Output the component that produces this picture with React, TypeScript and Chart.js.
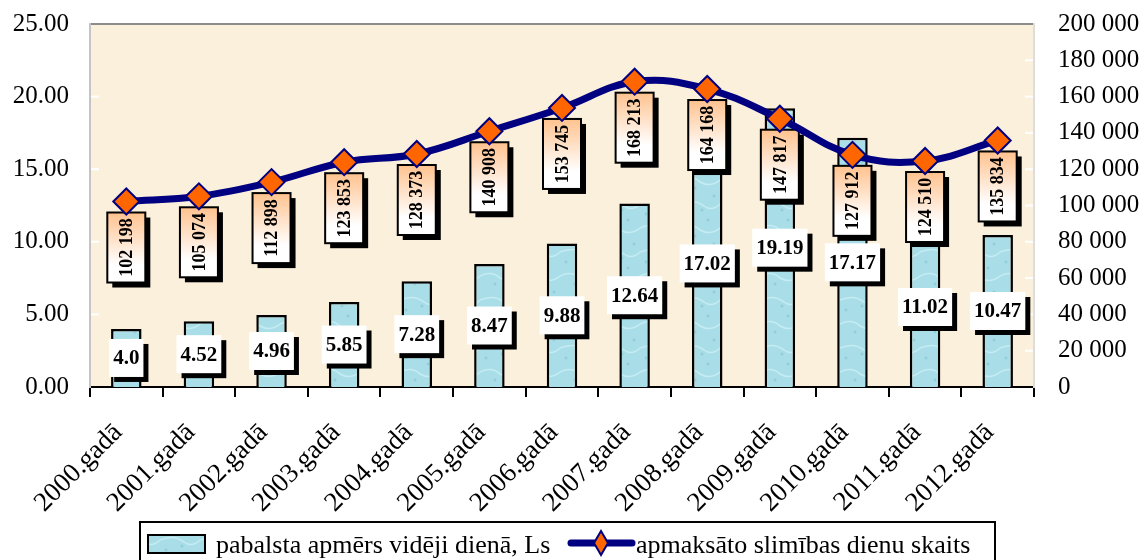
import { useEffect, useRef } from "react";
import { Chart, registerables } from "chart.js";

Chart.register(...registerables);

const categories = [
  "2000.gadā", "2001.gadā", "2002.gadā", "2003.gadā", "2004.gadā", "2005.gadā", "2006.gadā",
  "2007.gadā", "2008.gadā", "2009.gadā", "2010.gadā", "2011.gadā", "2012.gadā",
];
const benefitPerDay = [4.0, 4.52, 4.96, 5.85, 7.28, 8.47, 9.88, 12.64, 17.02, 19.19, 17.17, 11.02, 10.47];
const benefitLabels = ["4.0", "4.52", "4.96", "5.85", "7.28", "8.47", "9.88", "12.64", "17.02", "19.19", "17.17", "11.02", "10.47"];
const paidSickDays = [102198, 105074, 112898, 123853, 128373, 140908, 153745, 168213, 164168, 147817, 127912, 124510, 135834];
const seriesNames = ["pabalsta apmērs vidēji dienā, Ls", "apmaksāto slimības dienu skaits"];
const leftAxis = { min: 0, max: 25, step: 5 };
const rightAxis = { min: 0, max: 200000, step: 20000 };

const SERIF = "'Liberation Serif', 'DejaVu Serif', serif";

function fmtThousands(v: number): string {
  return String(Math.round(v)).replace(/\B(?=(\d{3})+(?!\d))/g, " ");
}

function makeBarPattern(): CanvasPattern | string {
  const c = document.createElement("canvas");
  c.width = 40;
  c.height = 48;
  const g = c.getContext("2d");
  if (!g) return "#A6DCE7";
  g.fillStyle = "#A9DEE8";
  g.fillRect(0, 0, 40, 48);
  g.strokeStyle = "rgba(210, 242, 247, 0.7)";
  g.lineWidth = 1.5;
  g.beginPath();
  g.moveTo(0, 12); g.quadraticCurveTo(14, 6, 24, 14); g.quadraticCurveTo(32, 20, 40, 12);
  g.moveTo(0, 36); g.quadraticCurveTo(12, 30, 20, 38); g.quadraticCurveTo(30, 44, 40, 36);
  g.stroke();
  g.fillStyle = "rgba(130, 195, 210, 0.6)";
  const dots = [[6, 22], [28, 28], [15, 44], [34, 4], [22, 18]];
  for (const [x, y] of dots) {
    g.beginPath();
    g.arc(x, y, 1.4, 0, Math.PI * 2);
    g.fill();
  }
  const p = g.createPattern(c, "repeat");
  return p || "#A6DCE7";
}

const backgroundPlugin = {
  id: "plotBackground",
  beforeDraw(chart: any) {
    const { ctx, chartArea: a } = chart;
    ctx.save();
    ctx.fillStyle = "#FBF0DC";
    ctx.fillRect(a.left, a.top, a.right - a.left, a.bottom - a.top);
    ctx.strokeStyle = "#8C8C8C";
    ctx.lineWidth = 2;
    ctx.beginPath();
    ctx.moveTo(a.left, a.top);
    ctx.lineTo(a.right, a.top);
    ctx.stroke();
    ctx.strokeStyle = "#FFFFFF";
    ctx.lineWidth = 2;
    const yl = chart.scales.y;
    for (let v = leftAxis.min + leftAxis.step; v < leftAxis.max; v += leftAxis.step) {
      const py = yl.getPixelForValue(v);
      ctx.beginPath();
      ctx.moveTo(a.left, py);
      ctx.lineTo(a.left + 9, py);
      ctx.stroke();
    }
    const yr = chart.scales.y1;
    for (let v = rightAxis.min + rightAxis.step; v < rightAxis.max; v += rightAxis.step) {
      const py = yr.getPixelForValue(v);
      ctx.beginPath();
      ctx.moveTo(a.right - 9, py);
      ctx.lineTo(a.right, py);
      ctx.stroke();
    }
    ctx.restore();
  },
};

const labelsPlugin = {
  id: "valueLabels",
  beforeDatasetDraw(chart: any, args: any) {
    if (args.index !== 1) return;
    const { ctx } = chart;
    const meta = chart.getDatasetMeta(1);
    ctx.save();
    meta.data.forEach((pt: any, i: number) => {
      const w = 38;
      const h = 70;
      const x = pt.x - w / 2;
      const y = pt.y + 11;
      ctx.fillStyle = "#000";
      ctx.fillRect(x + 5, y + 5, w, h);
      const grad = ctx.createLinearGradient(0, y, 0, y + h);
      grad.addColorStop(0, "#FFC28E");
      grad.addColorStop(0.75, "#FFFFFF");
      grad.addColorStop(1, "#FFFFFF");
      ctx.fillStyle = grad;
      ctx.fillRect(x, y, w, h);
      ctx.strokeStyle = "#000";
      ctx.lineWidth = 2;
      ctx.strokeRect(x, y, w, h);
      ctx.save();
      ctx.translate(pt.x, y + h / 2);
      ctx.rotate(-Math.PI / 2);
      ctx.fillStyle = "#000";
      ctx.font = `bold 18px ${SERIF}`;
      ctx.textAlign = "center";
      ctx.textBaseline = "middle";
      ctx.fillText(fmtThousands(paidSickDays[i]), 0, 1);
      ctx.restore();
    });
    ctx.restore();
  },
  afterDatasetDraw(chart: any, args: any) {
    if (args.index !== 0) return;
    const { ctx } = chart;
    const meta = chart.getDatasetMeta(0);
    ctx.save();
    ctx.font = `bold 21px ${SERIF}`;
    meta.data.forEach((bar: any, i: number) => {
      const text = benefitLabels[i];
      const tw = ctx.measureText(text).width;
      const w = tw + 8;
      const h = 38;
      const cx = bar.x;
      const cy = (bar.y + bar.base) / 2;
      const x = cx - w / 2;
      const y = cy - h / 2;
      ctx.fillStyle = "#000";
      ctx.fillRect(x + 5, y + 5, w, h);
      ctx.fillStyle = "#FFFFFF";
      ctx.fillRect(x, y, w, h);
      ctx.fillStyle = "#000";
      ctx.textAlign = "center";
      ctx.textBaseline = "middle";
      ctx.fillText(text, cx, cy + 1);
    });
    ctx.restore();
  },
};

const legendPlugin = {
  id: "boxLegend",
  afterDraw(chart: any) {
    const { ctx } = chart;
    const barFill = chart.data.datasets[0].backgroundColor;
    ctx.save();
    ctx.strokeStyle = "#000";
    ctx.lineWidth = 2;
    ctx.strokeRect(140, 522, 855, 50);
    ctx.fillStyle = barFill;
    ctx.fillRect(148, 535, 57, 18);
    ctx.lineWidth = 2;
    ctx.strokeRect(148, 535, 57, 18);
    ctx.fillStyle = "#000";
    ctx.font = `26px ${SERIF}`;
    ctx.textAlign = "left";
    ctx.textBaseline = "alphabetic";
    ctx.fillText(seriesNames[0], 216, 553);
    ctx.strokeStyle = "#000080";
    ctx.lineWidth = 7;
    ctx.lineCap = "round";
    ctx.beginPath();
    ctx.moveTo(571, 543);
    ctx.lineTo(632, 543);
    ctx.stroke();
    ctx.fillStyle = "#FF6600";
    ctx.strokeStyle = "#000080";
    ctx.lineWidth = 2;
    ctx.beginPath();
    ctx.moveTo(601, 531);
    ctx.lineTo(608, 543);
    ctx.lineTo(601, 555);
    ctx.lineTo(594, 543);
    ctx.closePath();
    ctx.fill();
    ctx.stroke();
    ctx.fillStyle = "#000";
    ctx.fillText(seriesNames[1], 636, 553);
    ctx.restore();
  },
};

export default function App() {
  const ref = useRef<HTMLCanvasElement | null>(null);

  useEffect(() => {
    document.body.style.margin = "0";
    const canvas = ref.current;
    if (!canvas) return;
    const pattern = makeBarPattern();
    const chart = new Chart(canvas, {
      type: "bar",
      data: {
        labels: categories,
        datasets: [
          {
            type: "bar",
            label: seriesNames[0],
            data: benefitPerDay,
            yAxisID: "y",
            backgroundColor: pattern as any,
            borderColor: "#000",
            borderWidth: 2.5,
            barPercentage: 0.42,
            categoryPercentage: 1,
            order: 2,
          },
          {
            type: "line",
            label: seriesNames[1],
            data: paidSickDays,
            yAxisID: "y1",
            borderColor: "#000080",
            borderWidth: 7,
            tension: 0.4,
            pointStyle: "rectRot",
            pointRadius: 13,
            pointHoverRadius: 13,
            pointBackgroundColor: "#FF6600",
            pointBorderColor: "#000080",
            pointBorderWidth: 2,
            order: 1,
          } as any,
        ],
      },
      options: {
        responsive: false,
        animation: false,
        layout: { padding: { top: 24, bottom: 39, left: 0, right: 0 } },
        plugins: {
          legend: { display: false },
          tooltip: { enabled: false },
          title: { display: false },
        },
        scales: {
          x: {
            type: "category",
            offset: true,
            grid: {
              offset: true,
              drawOnChartArea: false,
              drawTicks: true,
              tickLength: 10,
              color: "#000",
              lineWidth: 2,
            },
            border: { display: true, color: "#000", width: 2 },
            ticks: {
              autoSkip: false,
              maxRotation: 45,
              minRotation: 45,
              padding: 20,
              labelOffset: -8,
              color: "#000",
              font: { family: SERIF, size: 27 },
            },
            afterFit(scale: any) {
              scale.height = 134;
              scale.paddingLeft = 0;
              scale.paddingRight = 0;
            },
          },
          y: {
            type: "linear",
            position: "left",
            min: leftAxis.min,
            max: leftAxis.max,
            grid: { display: false },
            border: { display: true, color: "#C4C4C4", width: 2 },
            ticks: {
              stepSize: leftAxis.step,
              padding: 13,
              color: "#000",
              font: { family: SERIF, size: 25 },
              callback: (v: any) => Number(v).toFixed(2),
            },
            afterFit(scale: any) {
              scale.width = 90;
              scale.paddingTop = 0;
              scale.paddingBottom = 0;
            },
          },
          y1: {
            type: "linear",
            position: "right",
            min: rightAxis.min,
            max: rightAxis.max,
            grid: { display: false },
            border: { display: true, color: "#DDDDDD", width: 2 },
            ticks: {
              stepSize: rightAxis.step,
              padding: 16,
              color: "#000",
              font: { family: SERIF, size: 25 },
              callback: (v: any) => fmtThousands(Number(v)),
            },
            afterFit(scale: any) {
              scale.width = 109;
              scale.paddingTop = 0;
              scale.paddingBottom = 0;
            },
          },
        },
      },
      plugins: [backgroundPlugin, labelsPlugin, legendPlugin],
    });
    return () => chart.destroy();
  }, []);

  return (
    <div style={{ width: 1143, height: 560, background: "#fff" }}>
      <canvas ref={ref} width={1143} height={560} style={{ display: "block" }} />
    </div>
  );
}
